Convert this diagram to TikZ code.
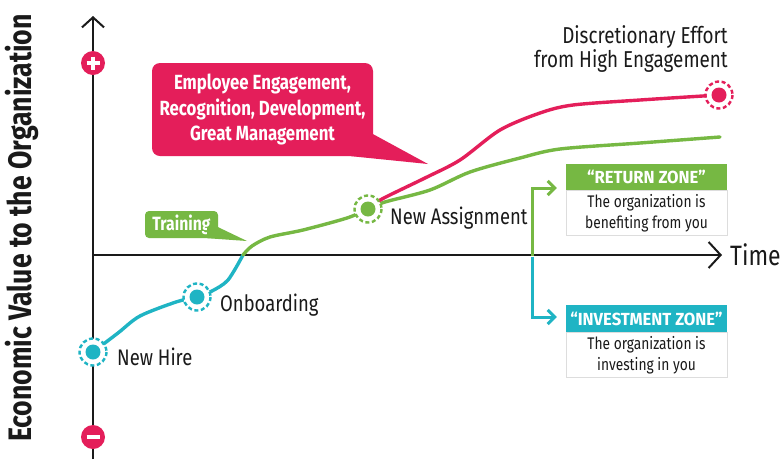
\documentclass[tikz,border=0pt]{standalone}
\usepackage{fontspec}
\setmainfont{Fira Sans}[FakeStretch=0.82]
\newfontfamily\headfont{Fira Sans}[FakeStretch=0.95]
\usetikzlibrary{arrows.meta,calc}

\definecolor{pinkc}{HTML}{E41E5A}
\definecolor{greenc}{HTML}{76B843}
\definecolor{cyanc}{HTML}{1FB4C4}
\definecolor{inkc}{HTML}{1A1A1A}
\definecolor{edgec}{HTML}{DDDDDD}

\tikzset{
  axisline/.style={draw=inkc, line width=2pt},
  chevron/.style={-{Straight Barb[length=10pt,width=22pt,line width=2pt]}},
  curve/.style={line width=3.4pt, line cap=round, line join=round},
  ringdot/.style={circle, minimum size=15pt, inner sep=0pt},
  lbl/.style={font=\fontsize{22.5}{24}\selectfont, text=inkc, inner sep=0pt},
  signdot/.style={circle, fill=pinkc, minimum size=24pt, inner sep=0pt},
  zonehead/.style={font=\headfont\bfseries\fontsize{17.5}{19}\selectfont, text=white, inner sep=0pt},
  zonebody/.style={font=\fontsize{16.8}{21}\selectfont, text=inkc, align=center, inner sep=0pt},
  bracket/.style={line width=3pt, line join=miter},
  brtip/.style={-{Straight Barb[length=7pt,width=14pt,line width=3pt]}}
}

% a marked milestone: dashed ring around a filled dot
\newcommand{\milestone}[3]{%
  \fill[white] (#2) circle (13.5);
  \draw[#3, line width=2.4pt, dash pattern=on 4pt off 2.6pt] (#2) circle (13.5);
  \node[ringdot, fill=#3] (#1) at (#2) {};
}

\begin{document}
\begin{tikzpicture}[x=1pt,y=-1pt]
\useasboundingbox (0,0) rectangle (780,459);
\fill[white] (0,0) rectangle (780,459);

% vertical axis title
\node[rotate=90, font=\bfseries\fontsize{32.5}{34}\selectfont, text=inkc] (ytitle) at (22,228) {Economic Value to the Organization};

% axes
\coordinate (ybot) at (93,459);
\coordinate (ytop) at (93,16);
\coordinate (xorg) at (93,255);
\coordinate (xend) at (722,255);
\draw[axisline, chevron] (ybot) -- (ytop);
\draw[axisline, -{Straight Barb[length=12pt,width=26pt,line width=2pt]}] (xorg) -- (xend);
\node[lbl, font=\fontsize{28}{30}\selectfont, anchor=west] (time) at (730,255) {Time};

% plus and minus markers on the value axis
\node[signdot] (plus) at (93,63) {};
\draw[white, line width=3.6pt] ($(plus)+(-6.5,0)$) -- ($(plus)+(6.5,0)$) ($(plus)+(0,-6.5)$) -- ($(plus)+(0,6.5)$);
\node[signdot] (minus) at (93,437) {};
\draw[white, line width=3.6pt] ($(minus)+(-6.5,0)$) -- ($(minus)+(6.5,0)$);

% career path
\coordinate (nh) at (93,352);
\coordinate (ob) at (197,297);
\coordinate (cross) at (243,255);
\coordinate (na) at (368,209);
\coordinate (hiend) at (719,95);
\coordinate (loend) at (720,137);

\draw[cyanc, curve] plot[smooth, tension=0.5] coordinates {(nh) (118,333) (140,316) (176,302) (ob)};
\draw[cyanc, curve] plot[smooth, tension=0.5] coordinates {(ob) (212,291) (228,280) (cross)};
\draw[greenc, curve] plot[smooth, tension=0.5] coordinates {(cross) (252,246) (270,237) (303,230) (347,218) (na)};
\draw[greenc, curve] plot[smooth, tension=0.5] coordinates {(na) (385,202) (430,190) (470,172) (520,158) (560,149) (640,143) (loend)};
\draw[pinkc, curve] plot[smooth, tension=0.5] coordinates {(na) (382,199) (425,178) (460,160) (500,130) (540,113) (573,105) (640,100) (hiend)};

\milestone{nhdot}{nh}{cyanc}
\milestone{obdot}{ob}{cyanc}
\milestone{nadot}{na}{greenc}
\milestone{hidot}{hiend}{pinkc}

\node[lbl, anchor=west] (nhlbl) at (117,357) {New Hire};
\node[lbl, anchor=west] (oblbl) at (220,305) {Onboarding};
\node[lbl, anchor=west] (nalbl) at (390,218) {New Assignment};
\node[lbl, align=right, anchor=north east, font=\fontsize{23}{24}\selectfont] (hilbl) at (728,25) {Discretionary Effort\\from High Engagement};

% engagement callout
\node[fill=pinkc, rounded corners=8pt, minimum width=221pt, minimum height=93pt, inner sep=0pt,
      font=\bfseries\fontsize{20.5}{25.5}\selectfont, text=white, align=center] (eng) at (262.5,109.5)
      {Employee Engagement,\\Recognition, Development,\\Great Management};
\coordinate (engtip) at (428,164);
\fill[pinkc] ($(eng.south east)+(0,-22)$) -- (engtip) -- ($(eng.south east)+(-22,0)$) -- ($(eng.south east)+(-22,-22)$) -- cycle;

% training callout
\node[fill=greenc, rounded corners=4pt, minimum width=73pt, minimum height=27pt, inner sep=0pt,
      font=\bfseries\fontsize{19.2}{20}\selectfont, text=white] (train) at (181.5,224.5) {Training};
\coordinate (traintip) at (247,241);
\fill[greenc] ($(train.south east)+(0,-11)$) -- (traintip) -- ($(train.south east)+(-11,0)$) -- ($(train.south east)+(-11,-11)$) -- cycle;

% return zone
\node[fill=greenc, minimum width=161pt, minimum height=26pt, inner sep=0pt] (rethead) at (646.5,177) {};
\node[zonehead] at (rethead) {“RETURN ZONE”};
\node[draw=edgec, line width=0.8pt, fill=white, minimum width=161pt, minimum height=45pt, inner sep=0pt, anchor=north] (retbody) at (rethead.south) {};
\node[zonebody] at (retbody) {The organization is\\benefiting from you};

% investment zone
\node[fill=cyanc, minimum width=161pt, minimum height=27pt, inner sep=0pt] (invhead) at (646.5,318.5) {};
\node[zonehead] at (invhead) {“INVESTMENT ZONE”};
\node[draw=edgec, line width=0.8pt, fill=white, minimum width=161pt, minimum height=45pt, inner sep=0pt, anchor=north] (invbody) at (invhead.south) {};
\node[zonebody] at (invbody) {The organization is\\investing in you};

% bracket pointing to the two zones
\coordinate (brmid) at (532,255);
\coordinate (brtop) at (532,188);
\coordinate (brbot) at (532,317);
\draw[greenc, bracket, brtip] ($(brmid)+(0,0.5)$) -- (brtop) -- ($(rethead.west |- brtop)+(-9,0)$);
\draw[cyanc, bracket, brtip] ($(brmid)+(0,1.5)$) -- (brbot) -- ($(invhead.west |- brbot)+(-9,0)$);
\end{tikzpicture}
\end{document}
